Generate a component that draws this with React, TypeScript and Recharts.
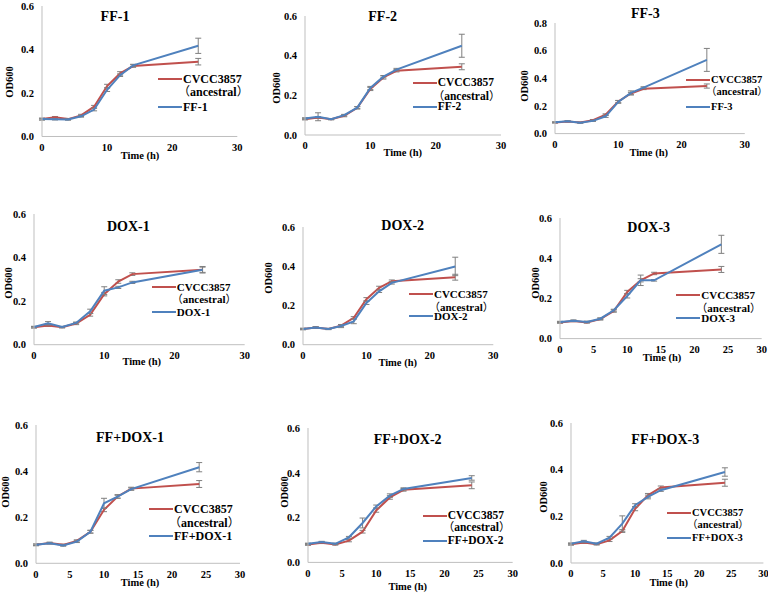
import React from 'react';
import { LineChart, Line, XAxis, YAxis, ErrorBar, Legend } from 'recharts';

const time = [0, 2, 4, 6, 8, 10, 12, 14, 24];
const ancestral = [0.08, 0.088, 0.08, 0.097, 0.137, 0.232, 0.29, 0.324, 0.344];
const ancestralErr = [0.004, 0.004, 0.003, 0.005, 0.006, 0.008, 0.008, 0.006, 0.015];

const ff1 = [0.08, 0.079, 0.078, 0.093, 0.124, 0.215, 0.282, 0.327, 0.417];
const ff1Err = [0.004, 0.003, 0.003, 0.004, 0.006, 0.008, 0.006, 0.005, 0.035];
const ff2 = [0.083, 0.092, 0.08, 0.1, 0.138, 0.237, 0.294, 0.33, 0.45];
const ff2Err = [0.004, 0.02, 0.003, 0.004, 0.005, 0.008, 0.006, 0.006, 0.058];
const ff3 = [0.082, 0.09, 0.078, 0.092, 0.125, 0.229, 0.294, 0.333, 0.533];
const ff3Err = [0.003, 0.003, 0.003, 0.004, 0.008, 0.01, 0.015, 0.006, 0.083];
const dox1 = [0.081, 0.098, 0.081, 0.1, 0.153, 0.248, 0.263, 0.286, 0.344];
const dox1Err = [0.003, 0.008, 0.003, 0.004, 0.01, 0.018, 0.005, 0.005, 0.012];
const dox2 = [0.08, 0.088, 0.08, 0.095, 0.119, 0.213, 0.272, 0.315, 0.399];
const dox2Err = [0.003, 0.003, 0.003, 0.008, 0.012, 0.008, 0.006, 0.006, 0.047];
const dox3 = [0.083, 0.089, 0.083, 0.099, 0.141, 0.212, 0.29, 0.29, 0.469];
const dox3Err = [0.003, 0.003, 0.004, 0.004, 0.005, 0.01, 0.026, 0.004, 0.045];
const ffdox1 = [0.08, 0.087, 0.077, 0.094, 0.137, 0.26, 0.289, 0.322, 0.417];
const ffdox1Err = [0.003, 0.003, 0.003, 0.004, 0.006, 0.022, 0.006, 0.005, 0.02];
const ffdox2 = [0.083, 0.091, 0.083, 0.112, 0.176, 0.25, 0.298, 0.328, 0.377];
const ffdox2Err = [0.003, 0.003, 0.003, 0.004, 0.022, 0.006, 0.008, 0.005, 0.01];
const ffdox3 = [0.083, 0.093, 0.083, 0.109, 0.169, 0.248, 0.283, 0.312, 0.39];
const ffdox3Err = [0.003, 0.004, 0.003, 0.005, 0.033, 0.006, 0.008, 0.005, 0.018];

const xTicks10 = [0, 10, 20, 30];
const xTicks5 = [0, 5, 10, 15, 20, 25, 30];
const yTicks6 = [0, 0.2, 0.4, 0.6];
const yTicks8 = [0, 0.2, 0.4, 0.6, 0.8];

const ancestralName = 'CVCC3857';
const ancestralSub = 'ancestral';
const parenOpen = '（';
const parenClose = '）';
const xLabel = 'Time (h)';
const yLabel = 'OD600';

const RED = '#C0504D';
const BLUE = '#4F81BD';
const ERR = '#7F7F7F';
const AXIS = '#BFBFBF';
const FONT = '"Liberation Serif", "Times New Roman", serif';
const CJK = '"Noto Sans CJK SC", "Noto Sans CJK JP", sans-serif';

const ML = 45;
const MT = 10;
const MR = 12;
const MB = 30;

type Panel = {
  title: string;
  values: number[];
  errs: number[];
  ymax: number;
  yticks: number[];
  xticks: number[];
  L: number; R: number; T: number; B: number;
  tx: number; ty: number;
  ylx: number; yly: number;
  xlx: number; xly: number;
  lgx: number; lgy: [number, number, number]; lfs: number;
};

const panels: Panel[] = [
  { title: 'FF-1', values: ff1, errs: ff1Err, ymax: 0.6, yticks: yTicks6, xticks: xTicks10,
    L: 41.7, R: 237, T: 6, B: 136.5, tx: 115, ty: 16.7, ylx: 10, yly: 82, xlx: 140, xly: 155.7,
    lgx: 158, lgy: [79, 91.3, 106.7], lfs: 12 },
  { title: 'FF-2', values: ff2, errs: ff2Err, ymax: 0.6, yticks: yTicks6, xticks: xTicks10,
    L: 305, R: 501, T: 16, B: 135, tx: 382.7, ty: 17.3, ylx: 276.7, yly: 88, xlx: 402.7, xly: 153,
    lgx: 412.7, lgy: [83.3, 96, 107.3], lfs: 11.5 },
  { title: 'FF-3', values: ff3, errs: ff3Err, ymax: 0.8, yticks: yTicks8, xticks: xTicks10,
    L: 554.7, R: 744.5, T: 22.7, B: 133.3, tx: 645.3, ty: 14.3, ylx: 525.3, yly: 86, xlx: 648.7, xly: 152.7,
    lgx: 686, lgy: [80, 92.3, 107.3], lfs: 10.5 },
  { title: 'DOX-1', values: dox1, errs: dox1Err, ymax: 0.6, yticks: yTicks6, xticks: xTicks10,
    L: 34.3, R: 245, T: 214.3, B: 345, tx: 128.3, ty: 226.7, ylx: 9.3, yly: 283, xlx: 141.7, xly: 361.7,
    lgx: 151.7, lgy: [286.7, 299, 311.7], lfs: 11 },
  { title: 'DOX-2', values: dox2, errs: dox2Err, ymax: 0.6, yticks: yTicks6, xticks: xTicks10,
    L: 302.7, R: 493, T: 227.3, B: 345, tx: 402.7, ty: 225.7, ylx: 269.3, yly: 278, xlx: 397.7, xly: 362.7,
    lgx: 409, lgy: [294.3, 307, 316], lfs: 11 },
  { title: 'DOX-3', values: dox3, errs: dox3Err, ymax: 0.6, yticks: yTicks6, xticks: xTicks5,
    L: 560.3, R: 762, T: 217.7, B: 338.3, tx: 648.7, ty: 228.3, ylx: 536, yly: 283, xlx: 662, xly: 358,
    lgx: 676.3, lgy: [295, 308.3, 317.7], lfs: 11 },
  { title: 'FF+DOX-1', values: ffdox1, errs: ffdox1Err, ymax: 0.6, yticks: yTicks6, xticks: xTicks5,
    L: 36, R: 240, T: 425, B: 563.3, tx: 130, ty: 438.3, ylx: 6, yly: 492, xlx: 140, xly: 582.7,
    lgx: 149, lgy: [509, 521.7, 535.7], lfs: 12 },
  { title: 'FF+DOX-2', values: ffdox2, errs: ffdox2Err, ymax: 0.6, yticks: yTicks6, xticks: xTicks5,
    L: 308.3, R: 513, T: 428.3, B: 562.7, tx: 407.7, ty: 440, ylx: 285.3, yly: 492, xlx: 407.7, xly: 586.7,
    lgx: 422.7, lgy: [515.7, 527.3, 540.7], lfs: 11.5 },
  { title: 'FF+DOX-3', values: ffdox3, errs: ffdox3Err, ymax: 0.6, yticks: yTicks6, xticks: xTicks5,
    L: 571.3, R: 763.7, T: 422.7, B: 562.7, tx: 665.3, ty: 440, ylx: 543.7, yly: 497, xlx: 668.7, xly: 582.7,
    lgx: 667, lgy: [512.7, 525, 537.7], lfs: 10.5 },
];

const tickStyle = { fill: '#000', fontFamily: FONT, fontWeight: 'bold' as const, fontSize: 10.5 };

const centered = (x: number, y: number, extra: React.CSSProperties = {}): React.CSSProperties => ({
  position: 'absolute',
  left: x,
  top: y,
  transform: 'translate(-50%, -50%)',
  whiteSpace: 'nowrap',
  lineHeight: 1,
  fontFamily: FONT,
  fontWeight: 'bold',
  color: '#000',
  ...extra,
});

function PanelChart({ p }: { p: Panel }) {
  const data = time.map((t, i) => ({
    t,
    anc: ancestral[i],
    ancErr: ancestralErr[i],
    s: p.values[i],
    sErr: p.errs[i],
  }));
  const boxLeft = p.L - ML;
  const boxTop = p.T - MT;
  const width = p.R - p.L + ML + MR;
  const height = p.B - p.T + MT + MB;
  const legTop = p.lgy[0] - 8;
  const rowA = p.lgy[1] - legTop;
  const rowB = p.lgy[2] - legTop;
  const legW = Math.max(60, 766 - p.lgx);
  const textStyle: React.CSSProperties = { position: 'absolute', transform: 'translateY(-50%)', lineHeight: 1, whiteSpace: 'nowrap' };
  const parenStyle: React.CSSProperties = { fontFamily: CJK, fontWeight: 'normal' };

  const legendContent = () => (
    <div style={{ position: 'relative', width: legW, height: 40, fontFamily: FONT, fontWeight: 'bold', fontSize: p.lfs, color: '#000' }}>
      <div style={{ position: 'absolute', left: 0, top: 7, width: 24, height: 2, background: RED }} />
      <div style={{ ...textStyle, left: 25, top: 8 }}>{ancestralName}</div>
      <div style={{ ...textStyle, left: 20, top: rowA }}>
        <span style={parenStyle}>{parenOpen}</span>{ancestralSub}<span style={parenStyle}>{parenClose}</span>
      </div>
      <div style={{ position: 'absolute', left: 0, top: rowB - 1, width: 24, height: 2, background: BLUE }} />
      <div style={{ ...textStyle, left: 25, top: rowB }}>{p.title}</div>
    </div>
  );

  return (
    <>
      <div style={{ position: 'absolute', left: boxLeft, top: boxTop, width, height }}>
        <LineChart width={width} height={height} data={data} margin={{ top: MT, right: MR, bottom: 0, left: 0 }}>
          <XAxis
            type="number"
            dataKey="t"
            domain={[0, 30]}
            ticks={p.xticks}
            height={MB}
            tickLine={false}
            tickSize={5}
            axisLine={{ stroke: AXIS }}
            tick={tickStyle}
            interval={0}
          />
          <YAxis
            type="number"
            domain={[0, p.ymax]}
            ticks={p.yticks}
            width={ML}
            tickLine={false}
            axisLine={{ stroke: AXIS }}
            tick={tickStyle}
            tickFormatter={(v: number) => v.toFixed(1)}
            interval={0}
          />
          <Legend
            layout="horizontal"
            align="center"
            verticalAlign="middle"
            width={legW}
            height={40}
            wrapperStyle={{ left: p.lgx - boxLeft, top: legTop - boxTop, width: legW, height: 40 }}
            content={legendContent}
          />
          <Line type="linear" dataKey="anc" name={ancestralName} stroke={RED} strokeWidth={2} dot={false} isAnimationActive={false}>
            <ErrorBar dataKey="ancErr" direction="y" width={3} stroke={ERR} strokeWidth={1} isAnimationActive={false} />
          </Line>
          <Line type="linear" dataKey="s" name={p.title} stroke={BLUE} strokeWidth={2} dot={false} isAnimationActive={false}>
            <ErrorBar dataKey="sErr" direction="y" width={3} stroke={ERR} strokeWidth={1} isAnimationActive={false} />
          </Line>
        </LineChart>
      </div>
      <div style={centered(p.tx, p.ty, { fontSize: 14 })}>{p.title}</div>
      <div style={centered(p.xlx, p.xly, { fontSize: 10.5 })}>{xLabel}</div>
      <div style={centered(p.ylx, p.yly, { fontSize: 10.5, transform: 'translate(-50%, -50%) rotate(-90deg)' })}>{yLabel}</div>
    </>
  );
}

export default function App() {
  return (
    <div style={{ position: 'absolute', left: 0, top: 0, width: 768, height: 594, background: '#fff', overflow: 'hidden' }}>
      {panels.map((p) => (
        <PanelChart key={p.title} p={p} />
      ))}
    </div>
  );
}
